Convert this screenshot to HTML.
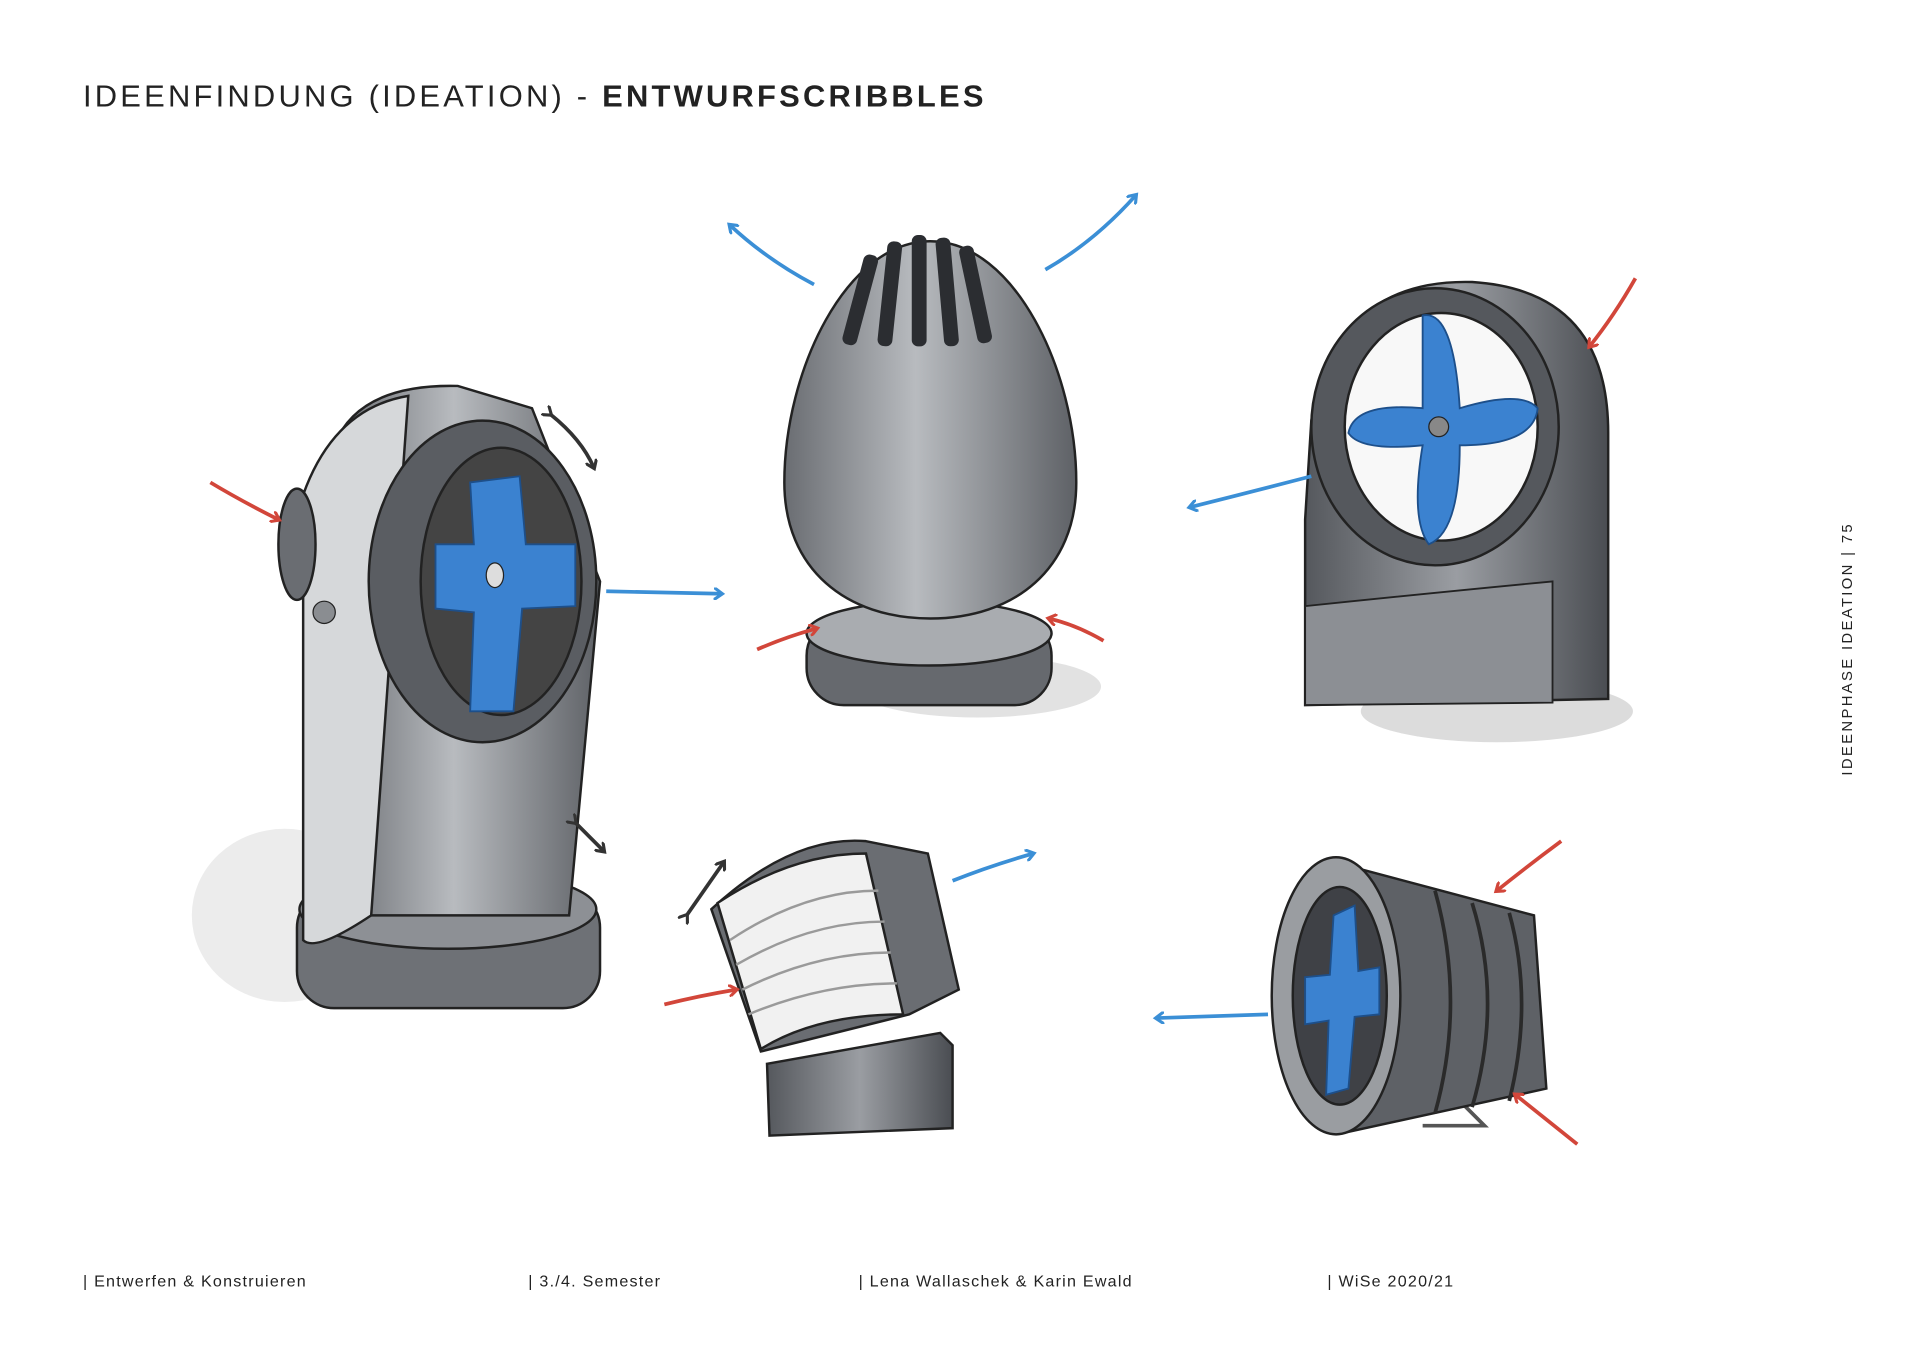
<!DOCTYPE html>
<html><head><meta charset="utf-8"><style>
html,body{margin:0;padding:0;background:#fff;}
body{width:1920px;height:1357px;overflow:hidden;}
svg{display:block}
</style></head><body>
<svg width="1920" height="1357" viewBox="0 0 1552 1097" xmlns="http://www.w3.org/2000/svg" font-family="Liberation Sans, sans-serif">
<defs>
<linearGradient id="g1" x1="0" x2="1"><stop offset="0" stop-color="#6a6d72"/><stop offset="0.45" stop-color="#b8bbbf"/><stop offset="1" stop-color="#5e6166"/></linearGradient>
<linearGradient id="g2" x1="0" x2="1"><stop offset="0" stop-color="#55585d"/><stop offset="0.5" stop-color="#9a9da2"/><stop offset="1" stop-color="#4a4d52"/></linearGradient>
<marker id="ab" markerWidth="10" markerHeight="10" refX="6" refY="5" orient="auto" markerUnits="userSpaceOnUse"><path d="M0,0 L7,5 L0,10" fill="none" stroke="#3b8fd6" stroke-width="2.5"/></marker>
<marker id="ar" markerWidth="10" markerHeight="10" refX="6" refY="5" orient="auto" markerUnits="userSpaceOnUse"><path d="M0,0 L7,5 L0,10" fill="none" stroke="#d2463a" stroke-width="2.5"/></marker>
<marker id="ak" markerWidth="10" markerHeight="10" refX="6" refY="5" orient="auto" markerUnits="userSpaceOnUse"><path d="M0,0 L7,5 L0,10" fill="none" stroke="#333" stroke-width="2.5"/></marker>
</defs>
<text x="67" y="86" font-size="25" letter-spacing="2.6" fill="#222">IDEENFINDUNG (IDEATION) - <tspan font-weight="bold">ENTWURFSCRIBBLES</tspan></text>

<!-- object 1 -->
<ellipse cx="230" cy="740" rx="75" ry="70" fill="#ececec"/>
<rect x="240" y="720" width="245" height="95" rx="30" fill="#6e7176" stroke="#222" stroke-width="2"/>
<ellipse cx="362" cy="735" rx="120" ry="32" fill="#8d9095" stroke="#222" stroke-width="2"/>
<path d="M270,360 Q290,310 370,312 L430,330 L485,470 L460,740 L270,740 Z" fill="url(#g1)" stroke="#222" stroke-width="2"/>
<path d="M245,400 Q270,330 330,320 L300,740 Q255,770 245,760 Z" fill="#d6d8da" stroke="#222" stroke-width="2"/>
<ellipse cx="240" cy="440" rx="15" ry="45" fill="#6a6d72" stroke="#222" stroke-width="2"/>
<circle cx="262" cy="495" r="9" fill="#8a8d91" stroke="#222"/>
<ellipse cx="390" cy="470" rx="92" ry="130" fill="#5a5d62" stroke="#222" stroke-width="2"/>
<ellipse cx="405" cy="470" rx="65" ry="108" fill="#444" stroke="#222" stroke-width="2"/>
<path d="M380,390 L420,385 L425,440 L465,440 L465,490 L422,492 L415,575 L380,575 L383,495 L352,492 L352,440 L383,440 Z" fill="#3b82d0" stroke="#1d4f8a" stroke-width="1.5"/>
<ellipse cx="400" cy="465" rx="7" ry="10" fill="#ddd" stroke="#222"/>
<path d="M170,390 Q195,405 225,420" stroke="#d2463a" stroke-width="3" fill="none" marker-end="url(#ar)"/>
<path d="M490,478 L583,480" stroke="#3b8fd6" stroke-width="3" fill="none" marker-end="url(#ab)"/>
<path d="M445,335 Q470,355 480,378" stroke="#333" stroke-width="3" fill="none" marker-end="url(#ak)" marker-start="url(#ak)"/>
<path d="M465,665 L488,688" stroke="#333" stroke-width="3" fill="none" marker-end="url(#ak)" marker-start="url(#ak)"/>

<!-- object 2 egg -->
<ellipse cx="790" cy="555" rx="100" ry="25" fill="#e2e2e2"/>
<rect x="652" y="500" width="198" height="70" rx="30" fill="#66696e" stroke="#222" stroke-width="2"/>
<ellipse cx="751" cy="512" rx="99" ry="26" fill="#a9acb0" stroke="#222" stroke-width="2"/>
<path d="M752,195 C820,195 870,300 870,390 C870,460 820,500 752,500 C684,500 634,460 634,390 C634,300 684,195 752,195 Z" fill="url(#g1)" stroke="#222" stroke-width="2"/>
<g fill="#2b2d31"><rect x="690" y="205" width="12" height="75" rx="5" transform="rotate(15 696 240)"/><rect x="713" y="195" width="12" height="85" rx="5" transform="rotate(6 719 240)"/><rect x="737" y="190" width="12" height="90" rx="5"/><rect x="760" y="192" width="12" height="88" rx="5" transform="rotate(-5 766 240)"/><rect x="783" y="198" width="12" height="80" rx="5" transform="rotate(-12 789 240)"/></g>
<path d="M658,230 Q620,210 590,182" stroke="#3b8fd6" stroke-width="3" fill="none" marker-end="url(#ab)"/>
<path d="M845,218 Q885,195 918,158" stroke="#3b8fd6" stroke-width="3" fill="none" marker-end="url(#ab)"/>
<path d="M612,525 Q635,515 660,508" stroke="#d2463a" stroke-width="3" fill="none" marker-end="url(#ar)"/>
<path d="M892,518 Q870,505 848,500" stroke="#d2463a" stroke-width="3" fill="none" marker-end="url(#ar)"/>

<!-- object 3 -->
<ellipse cx="1210" cy="575" rx="110" ry="25" fill="#dcdcdc"/>
<path d="M1060,340 Q1080,225 1190,228 Q1300,235 1300,350 L1300,565 L1055,570 L1055,420 Z" fill="url(#g2)" stroke="#222" stroke-width="2"/>
<path d="M1055,490 Q1150,480 1255,470 L1255,568 L1055,570 Z" fill="#8c8f94" stroke="#222" stroke-width="1.5"/>
<ellipse cx="1160" cy="345" rx="100" ry="112" fill="#55585d" stroke="#222" stroke-width="2"/>
<ellipse cx="1165" cy="345" rx="78" ry="92" fill="#f8f8f8" stroke="#222" stroke-width="2"/>
<path d="M1150,255 Q1175,250 1180,330 Q1230,315 1243,330 Q1240,360 1180,360 Q1180,430 1155,440 Q1140,420 1150,360 Q1100,365 1090,350 Q1095,325 1150,330 Z" fill="#3b82d0" stroke="#1d4f8a" stroke-width="1.5"/>
<circle cx="1163" cy="345" r="8" fill="#888" stroke="#222"/>
<path d="M1060,385 Q1010,398 962,410" stroke="#3b8fd6" stroke-width="3" fill="none" marker-end="url(#ab)"/>
<path d="M1322,225 Q1305,255 1285,280" stroke="#d2463a" stroke-width="3" fill="none" marker-end="url(#ar)"/>

<!-- object 4 -->
<path d="M575,735 Q640,675 700,680 L750,690 L775,800 L735,820 L615,850 Z" fill="#6a6d72" stroke="#222" stroke-width="2"/>
<path d="M580,730 Q640,690 700,690 L730,820 Q660,820 615,848 Z" fill="#f1f1f1" stroke="#222" stroke-width="2"/>
<g stroke="#9a9a9a" stroke-width="2" fill="none"><path d="M590,760 Q650,720 710,720"/><path d="M595,780 Q655,745 715,745"/><path d="M600,800 Q660,770 720,770"/><path d="M605,820 Q665,795 725,795"/></g>
<path d="M620,860 L760,835 L770,845 L770,912 L622,918 Z" fill="url(#g2)" stroke="#222" stroke-width="2"/>
<path d="M770,712 Q800,700 835,690" stroke="#3b8fd6" stroke-width="3" fill="none" marker-end="url(#ab)"/>
<path d="M537,812 Q565,805 595,800" stroke="#d2463a" stroke-width="3" fill="none" marker-end="url(#ar)"/>
<path d="M555,740 L585,697" stroke="#333" stroke-width="3" fill="none" marker-end="url(#ak)" marker-start="url(#ak)"/>

<!-- object 5 -->
<path d="M1170,880 L1200,910 L1150,910" stroke="#555" stroke-width="3" fill="none"/>
<path d="M1090,700 L1240,740 L1250,880 L1090,915 Z" fill="#5e6166" stroke="#222" stroke-width="2"/>
<g stroke="#2a2a2a" stroke-width="3" fill="none"><path d="M1160,720 Q1185,810 1160,900"/><path d="M1190,730 Q1215,810 1190,895"/><path d="M1220,738 Q1240,810 1220,890"/></g>
<ellipse cx="1080" cy="805" rx="52" ry="112" fill="#9a9da1" stroke="#222" stroke-width="2"/>
<ellipse cx="1083" cy="805" rx="38" ry="88" fill="#3f4146" stroke="#222" stroke-width="2"/>
<path d="M1078,740 L1095,732 L1098,785 L1115,782 L1115,820 L1095,822 L1090,880 L1072,885 L1074,825 L1055,828 L1055,790 L1075,788 Z" fill="#3b82d0" stroke="#1d4f8a" stroke-width="1.5"/>
<path d="M1025,820 L935,823" stroke="#3b8fd6" stroke-width="3" fill="none" marker-end="url(#ab)"/>
<path d="M1262,680 Q1235,700 1210,720" stroke="#d2463a" stroke-width="3" fill="none" marker-end="url(#ar)"/>
<path d="M1275,925 Q1250,905 1225,885" stroke="#d2463a" stroke-width="3" fill="none" marker-end="url(#ar)"/>

<g font-size="13" fill="#222" letter-spacing="1">
<text x="67" y="1040">|  Entwerfen &amp; Konstruieren</text>
<text x="427" y="1040">|  3./4. Semester</text>
<text x="694" y="1040">|  Lena Wallaschek &amp; Karin Ewald</text>
<text x="1073" y="1040">|  WiSe 2020/21</text>
</g>
<text transform="translate(1497,627) rotate(-90)" font-size="12" fill="#222" letter-spacing="1.9">IDEENPHASE IDEATION  |  75</text>
</svg>
</body></html>
